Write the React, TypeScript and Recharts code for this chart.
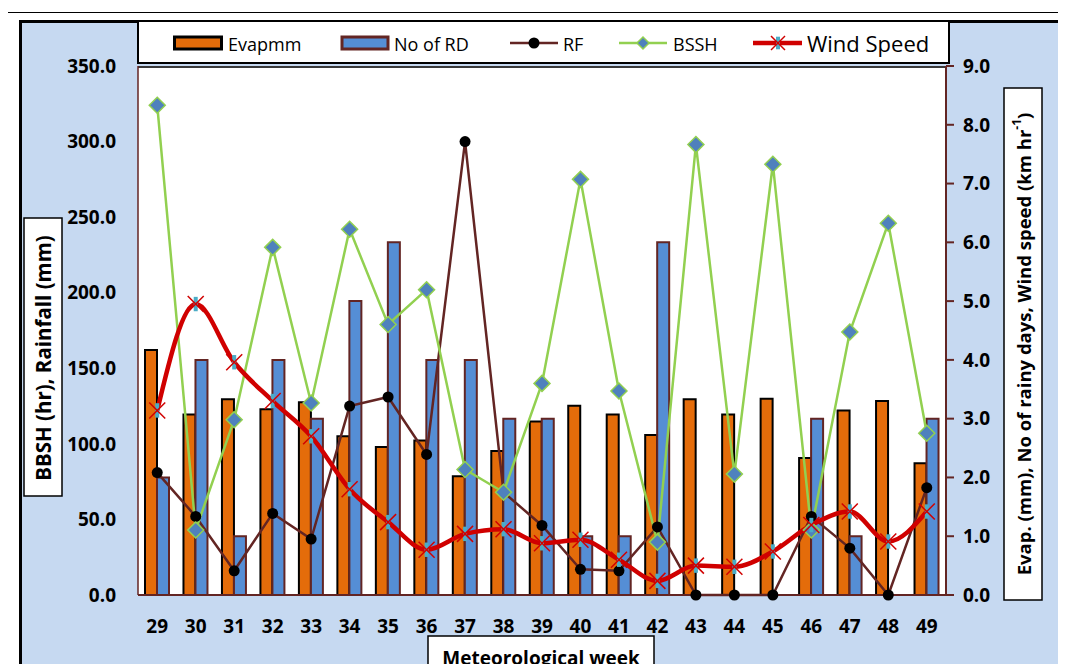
import React from 'react';
import { ComposedChart, Bar, Line, XAxis, YAxis } from 'recharts';

const weeks = ['29', '30', '31', '32', '33', '34', '35', '36', '37', '38', '39', '40', '41', '42', '43', '44', '45', '46', '47', '48', '49'];
const evapMm = [4.17, 3.07, 3.33, 3.16, 3.28, 2.7, 2.52, 2.63, 2.02, 2.45, 2.95, 3.22, 3.07, 2.72, 3.33, 3.07, 3.34, 2.33, 3.14, 3.3, 2.24];
const rainyDays = [2, 4, 1, 4, 3, 5, 6, 4, 4, 3, 3, 1, 1, 6, 0, 0, 0, 3, 1, 0, 3];
const rainfall = [81, 52, 16, 54, 37, 125, 131, 93, 300, 68, 46, 17, 16, 45, 0, 0, 0, 52, 31, 0, 71];
const bssh = [324, 43, 116, 230, 127, 242, 179, 202, 83, 68, 140, 275, 135, 35, 298, 80, 285, 43, 174, 246, 107];
const windSpeed = [3.14, 4.95, 3.96, 3.3, 2.7, 1.8, 1.24, 0.77, 1.04, 1.12, 0.88, 0.94, 0.6, 0.24, 0.5, 0.48, 0.74, 1.19, 1.42, 0.91, 1.42];

const leftTicks = [0, 50, 100, 150, 200, 250, 300, 350];
const rightTicks = [0, 1, 2, 3, 4, 5, 6, 7, 8, 9];

const data = weeks.map((week, i) => ({
  week,
  evap: evapMm[i],
  rd: rainyDays[i],
  rf: rainfall[i],
  bssh: bssh[i],
  wind: windSpeed[i],
}));

const FONT = "'Open Sans', sans-serif";
const ORANGE = '#e46c0a';
const BLUE = '#558ed5';
const BROWN = '#632523';
const GREEN = '#92d050';
const DIAMOND = '#4f81bd';
const RED = '#d00000';
const CYAN = '#4bacc6';
const SKY = '#c6d9f1';

const tickStyle = { fill: '#000', fontSize: 19, fontWeight: 700, fontFamily: FONT };

function RfDot(props: any) {
  const { cx, cy } = props;
  if (cx == null || cy == null) return <g />;
  return <circle cx={cx} cy={cy} r={5.5} fill="#000" />;
}

function Diamond({ cx, cy, s }: { cx: number; cy: number; s: number }) {
  return (
    <polygon
      points={`${cx},${cy - s} ${cx + s},${cy} ${cx},${cy + s} ${cx - s},${cy}`}
      fill={DIAMOND}
      stroke={GREEN}
      strokeWidth={1.5}
    />
  );
}

function BsshDot(props: any) {
  const { cx, cy } = props;
  if (cx == null || cy == null) return <g />;
  return <Diamond cx={cx} cy={cy} s={8} />;
}

function Star({ cx, cy, s }: { cx: number; cy: number; s: number }) {
  return (
    <g>
      <line x1={cx} y1={cy - s * 0.9} x2={cx} y2={cy + s * 0.9} stroke={CYAN} strokeWidth={4} />
      <line x1={cx - s} y1={cy - s} x2={cx + s} y2={cy + s} stroke={RED} strokeWidth={1.5} />
      <line x1={cx - s} y1={cy + s} x2={cx + s} y2={cy - s} stroke={RED} strokeWidth={1.5} />
    </g>
  );
}

function WindDot(props: any) {
  const { cx, cy } = props;
  if (cx == null || cy == null) return <g />;
  return <Star cx={cx} cy={cy} s={8} />;
}

export default function App() {
  const plotLeft = 138;
  const plotRight = 946;
  const plotTop = 66;
  const plotBottom = 595;

  return (
    <div
      style={{
        position: 'relative',
        width: 1066,
        height: 672,
        margin: -8,
        overflow: 'hidden',
        background: '#fff',
        fontFamily: FONT,
      }}
    >
      {/* outer frames */}
      <div style={{ position: 'absolute', left: 7, top: 12, width: 1200, height: 800, border: '1.5px solid #000' }} />
      <div style={{ position: 'absolute', left: 19, top: 20, width: 1200, height: 800, border: '3px solid #000', background: SKY }} />
      {/* plot area */}
      <div
        style={{
          position: 'absolute',
          left: plotLeft,
          top: plotTop,
          width: plotRight - plotLeft,
          height: plotBottom - plotTop,
          background: '#fff',
          borderTop: '2px solid #3a3a3a',
          boxSizing: 'border-box',
        }}
      />
      <div style={{ position: 'absolute', left: 0, top: 0 }}>
        <ComposedChart
          width={1066}
          height={672}
          data={data}
          margin={{ top: plotTop, left: plotLeft - 60, right: 1066 - plotRight - 60, bottom: 672 - plotBottom - 30 }}
          barGap={0}
        >
          <XAxis
            dataKey="week"
            interval={0}
            height={30}
            tickLine={false}
            tickSize={6}
            tickMargin={19}
            axisLine={{ stroke: BROWN, strokeWidth: 2 }}
            tick={tickStyle}
          />
          <YAxis
            yAxisId="left"
            orientation="left"
            width={60}
            domain={[0, 350]}
            ticks={leftTicks}
            tickFormatter={(v: number) => v.toFixed(1)}
            tickLine={false}
            tickSize={6}
            tickMargin={16}
            axisLine={{ stroke: BROWN, strokeWidth: 1.5 }}
            tick={tickStyle}
            interval={0}
          />
          <YAxis
            yAxisId="right"
            orientation="right"
            width={60}
            domain={[0, 9]}
            ticks={rightTicks}
            tickFormatter={(v: number) => v.toFixed(1)}
            tickSize={8}
            tickMargin={9}
            tickLine={{ stroke: BROWN, strokeWidth: 2 }}
            axisLine={{ stroke: BROWN, strokeWidth: 2 }}
            tick={tickStyle}
            interval={0}
          />
          <Bar yAxisId="right" dataKey="evap" name="Evapmm" barSize={12} fill={ORANGE} stroke="#000" strokeWidth={2} isAnimationActive={false} />
          <Bar yAxisId="right" dataKey="rd" name="No of RD" barSize={12} fill={BLUE} stroke={BROWN} strokeWidth={2} isAnimationActive={false} />
          <Line yAxisId="left" type="linear" dataKey="rf" name="RF" stroke={BROWN} strokeWidth={2.5} dot={<RfDot />} activeDot={false} isAnimationActive={false} />
          <Line yAxisId="left" type="linear" dataKey="bssh" name="BSSH" stroke={GREEN} strokeWidth={2.5} dot={<BsshDot />} activeDot={false} isAnimationActive={false} />
          <Line yAxisId="right" type="monotone" dataKey="wind" name="Wind Speed" stroke={RED} strokeWidth={4.5} dot={<WindDot />} activeDot={false} isAnimationActive={false} />
        </ComposedChart>
      </div>
      {/* legend and axis titles */}
      <svg width={1066} height={672} style={{ position: 'absolute', left: 0, top: 0, pointerEvents: 'none' }}>
        <rect x={138} y={21} width={811} height={42} fill="#fff" stroke="#000" strokeWidth={2} />
        <rect x={174.5} y={37} width={47} height={12} fill={ORANGE} stroke="#000" strokeWidth={3} />
        <text x={228} y={44} fontSize={18} fontFamily={FONT} dominantBaseline="central" fill="#000">Evapmm</text>
        <rect x={342} y={37} width={46} height={12} fill={BLUE} stroke={BROWN} strokeWidth={3} />
        <text x={394} y={44} fontSize={18} fontFamily={FONT} dominantBaseline="central" fill="#000">No of RD</text>
        <line x1={510} y1={43} x2={558} y2={43} stroke={BROWN} strokeWidth={2.5} />
        <circle cx={534} cy={43} r={5.5} fill="#000" />
        <text x={563} y={44} fontSize={18} fontFamily={FONT} dominantBaseline="central" fill="#000">RF</text>
        <line x1={619} y1={43} x2={667} y2={43} stroke={GREEN} strokeWidth={2.5} />
        <Diamond cx={643} cy={43} s={6} />
        <text x={673} y={44} fontSize={18} fontFamily={FONT} dominantBaseline="central" fill="#000">BSSH</text>
        <line x1={753} y1={43} x2={802} y2={43} stroke={RED} strokeWidth={4.5} />
        <Star cx={778} cy={43} s={7} />
        <text x={807} y={43} fontSize={22} fontFamily={FONT} dominantBaseline="central" fill="#000">Wind Speed</text>

        <rect x={24} y={218} width={38} height={278} fill="#fff" stroke="#000" strokeWidth={1.5} />
        <text
          x={43}
          y={358}
          transform="rotate(-90 43 358)"
          textAnchor="middle"
          dominantBaseline="central"
          fontSize={20.5}
          fontWeight={700}
          fontFamily={FONT}
          fill="#000"
        >
          BBSH (hr), Rainfall (mm)
        </text>

        <rect x={1004} y={88} width={38} height={512} fill="#fff" stroke="#000" strokeWidth={1.5} />
        <text
          x={1023}
          y={344}
          transform="rotate(-90 1023 344)"
          textAnchor="middle"
          dominantBaseline="central"
          fontSize={18.5}
          fontWeight={700}
          fontFamily={FONT}
          fill="#000"
        >
          Evap. (mm), No of rainy days, Wind speed (km hr
          <tspan dy={-7} fontSize={12}>-1</tspan>
          <tspan dy={7}>)</tspan>
        </text>

        <rect x={428} y={636} width={226} height={60} fill="#fff" stroke="#000" strokeWidth={1.5} />
        <text x={541} y={658} textAnchor="middle" dominantBaseline="central" fontSize={19} fontWeight={700} fontFamily={FONT} fill="#000">
          Meteorological week
        </text>
      </svg>
    </div>
  );
}
